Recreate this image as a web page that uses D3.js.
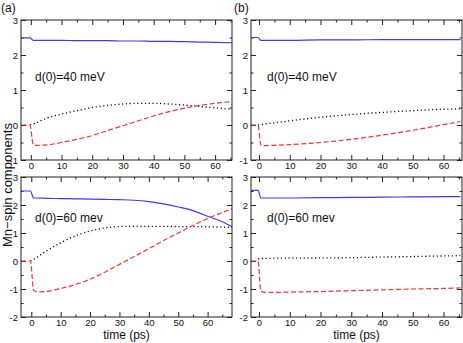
<!DOCTYPE html>
<html><head><meta charset="utf-8">
<script src="https://cdn.jsdelivr.net/npm/d3@7"></script>
<style>body{margin:0;background:#fff}svg{display:block}text{font-family:"Liberation Sans",Arial,sans-serif}</style>
</head><body><svg id="c" width="463" height="343"></svg>
<script>
// ---- data ----
const aTopTime = [-3, -0.3, 0.8, 2, 5, 10, 15, 20, 25, 30, 35, 40, 45, 50, 55, 60, 65.5];
const aTopBlue = [2.49, 2.49, 2.42, 2.42, 2.42, 2.42, 2.41, 2.41, 2.41, 2.40, 2.40, 2.39, 2.39, 2.38, 2.37, 2.36, 2.35];
const aTopDot  = [null, 0, 0.03, 0.07, 0.19, 0.31, 0.41, 0.50, 0.56, 0.60, 0.62, 0.62, 0.60, 0.57, 0.53, 0.49, 0.45];
const aTopRed  = [0, 0, -0.56, -0.58, -0.57, -0.50, -0.41, -0.30, -0.16, -0.02, 0.12, 0.26, 0.38, 0.48, 0.56, 0.62, 0.67];

const aBotTime = [-3.5, -0.3, 0.8, 2, 5, 10, 15, 20, 25, 30, 35, 40, 45, 50, 55, 60, 65, 68.3];
const aBotBlue = [2.5, 2.5, 2.25, 2.25, 2.24, 2.23, 2.22, 2.21, 2.20, 2.19, 2.17, 2.12, 2.04, 1.93, 1.80, 1.60, 1.40, 1.22];
const aBotDot  = [null, 0, 0.06, 0.14, 0.35, 0.65, 0.90, 1.07, 1.18, 1.23, 1.24, 1.24, 1.24, 1.23, 1.23, 1.22, 1.21, 1.20];
const aBotRed  = [0, 0, -1.05, -1.10, -1.09, -0.98, -0.84, -0.65, -0.40, -0.12, 0.16, 0.44, 0.73, 1.00, 1.27, 1.52, 1.73, 1.87];

const bTopTime = [-2.5, -0.3, 0.6, 2, 5, 10, 20, 30, 40, 50, 60, 65.5];
const bTopBlue = [2.5, 2.5, 2.42, 2.42, 2.42, 2.42, 2.43, 2.43, 2.44, 2.44, 2.44, 2.44];
const bTopDot  = [null, 0, 0.01, 0.03, 0.06, 0.12, 0.22, 0.30, 0.36, 0.41, 0.45, 0.46];
const bTopRed  = [0, 0, -0.57, -0.59, -0.58, -0.56, -0.50, -0.41, -0.29, -0.15, 0.01, 0.10];

const bBotTime = [-2.5, -0.3, 0.6, 2, 5, 10, 20, 30, 40, 50, 60, 65.5];
const bBotBlue = [2.52, 2.52, 2.25, 2.25, 2.25, 2.25, 2.26, 2.27, 2.28, 2.29, 2.30, 2.30];
const bBotDot  = [null, 0.08, 0.09, 0.09, 0.10, 0.10, 0.11, 0.12, 0.14, 0.16, 0.18, 0.19];
const bBotRed  = [0, 0, -1.08, -1.12, -1.12, -1.11, -1.09, -1.06, -1.03, -1.00, -0.98, -0.96];

const xTicks = [0, 10, 20, 30, 40, 50, 60];
const topYTicks = [-1, 0, 1, 2, 3];
const botYTicks = [-2, -1, 0, 1, 2, 3];
const panelTags = ["(a)", "(b)"];
const annotations = ["d(0)=40 meV", "d(0)=40 meV", "d(0)=60 mev", "d(0)=60 mev"];
const xTitle = "time (ps)";
const yTitle = "Mn\u2212spin components";

// ---- layout ----
const panels = [
  {x0: 21, x1: 232, y0: 20, y1: 160, xd: [-3.2, 65.5], yd: [-1, 3], yt: topYTicks, t: aTopTime, s: [aTopBlue, aTopDot, aTopRed], ann: annotations[0], ax: 14, ay: 61},
  {x0: 251, x1: 462, y0: 20, y1: 160, xd: [-2.6, 66], yd: [-1, 3], yt: topYTicks, t: bTopTime, s: [bTopBlue, bTopDot, bTopRed], ann: annotations[1], ax: 16, ay: 61},
  {x0: 21, x1: 232, y0: 177, y1: 317, xd: [-3.5, 68.3], yd: [-2, 3], yt: botYTicks, t: aBotTime, s: [aBotBlue, aBotDot, aBotRed], ann: annotations[2], ax: 14, ay: 45, xl: true},
  {x0: 251, x1: 462, y0: 177, y1: 317, xd: [-2.6, 66], yd: [-2, 3], yt: botYTicks, t: bBotTime, s: [bBotBlue, bBotDot, bBotRed], ann: annotations[3], ax: 16, ay: 45, xl: true}
];
const styles = [
  {stroke: "#3a3aff", dash: null, w: 1.2},
  {stroke: "#111", dash: "1.2,2.6", w: 1.3},
  {stroke: "#ff3030", dash: "5,2.5", w: 1.2}
];
const axisColor = "#222";

const svg = d3.select("#c");

panels.forEach(p => {
  const x = d3.scaleLinear().domain(p.xd).range([p.x0, p.x1]);
  const y = d3.scaleLinear().domain(p.yd).range([p.y1, p.y0]);
  const g = svg.append("g");

  const id = "clip" + p.x0 + "_" + p.y0;
  svg.append("clipPath").attr("id", id).append("rect")
    .attr("x", p.x0).attr("y", p.y0).attr("width", p.x1 - p.x0).attr("height", p.y1 - p.y0);

  const minorX = d3.range(5, p.xd[1], 10);
  const minorY = d3.range(p.yd[0] + 0.5, p.yd[1], 1);

  function styleAxis(sel) {
    sel.select(".domain").remove();
    sel.selectAll("line").attr("stroke", axisColor);
    sel.selectAll("text").attr("fill", "#111").style("font-size", "9.5px");
  }
  // bottom
  g.append("g").attr("transform", `translate(0,${p.y1})`)
    .call(d3.axisBottom(x).tickValues(xTicks).tickSize(-5).tickPadding(2).tickFormat(d3.format("d")))
    .call(styleAxis);
  g.append("g").attr("transform", `translate(0,${p.y1})`)
    .call(d3.axisBottom(x).tickValues(minorX).tickSize(-2.5).tickFormat(""))
    .call(styleAxis);
  // top
  g.append("g").attr("transform", `translate(0,${p.y0})`)
    .call(d3.axisTop(x).tickValues(xTicks).tickSize(-5).tickFormat(""))
    .call(styleAxis);
  g.append("g").attr("transform", `translate(0,${p.y0})`)
    .call(d3.axisTop(x).tickValues(minorX).tickSize(-2.5).tickFormat(""))
    .call(styleAxis);
  // left
  g.append("g").attr("transform", `translate(${p.x0},0)`)
    .call(d3.axisLeft(y).tickValues(p.yt).tickSize(-5).tickPadding(3).tickFormat(d => d < 0 ? "-" + Math.abs(d) : d))
    .call(styleAxis);
  g.append("g").attr("transform", `translate(${p.x0},0)`)
    .call(d3.axisLeft(y).tickValues(minorY).tickSize(-2.5).tickFormat(""))
    .call(styleAxis);
  // right
  g.append("g").attr("transform", `translate(${p.x1},0)`)
    .call(d3.axisRight(y).tickValues(p.yt).tickSize(-5).tickFormat(""))
    .call(styleAxis);
  g.append("g").attr("transform", `translate(${p.x1},0)`)
    .call(d3.axisRight(y).tickValues(minorY).tickSize(-2.5).tickFormat(""))
    .call(styleAxis);

  // series
  const lg = g.append("g").attr("clip-path", `url(#${id})`);
  p.s.forEach((vals, i) => {
    const pts = p.t.map((t, k) => [t, vals[k]]);
    const line = d3.line().defined(d => d[1] !== null)
      .x(d => x(d[0])).y(d => y(d[1])).curve(d3.curveMonotoneX);
    lg.append("path").attr("d", line(pts)).attr("fill", "none")
      .attr("stroke", styles[i].stroke).attr("stroke-width", styles[i].w)
      .attr("stroke-dasharray", styles[i].dash);
  });

  // box
  g.append("rect").attr("x", p.x0).attr("y", p.y0).attr("width", p.x1 - p.x0).attr("height", p.y1 - p.y0)
    .attr("fill", "none").attr("stroke", axisColor).attr("stroke-width", 1);

  // annotation
  g.append("text").attr("x", p.x0 + p.ax).attr("y", p.y0 + p.ay).text(p.ann)
    .style("font-size", "12px").attr("fill", "#111");

  if (p.xl) {
    g.append("text").attr("x", (p.x0 + p.x1) / 2).attr("y", 339).attr("text-anchor", "middle")
      .style("font-size", "12px").attr("fill", "#111").text(xTitle);
  }
});

svg.append("text").attr("x", 1).attr("y", 12).style("font-size", "12px").attr("fill", "#111").text(panelTags[0]);
svg.append("text").attr("x", 234).attr("y", 12).style("font-size", "12px").attr("fill", "#111").text(panelTags[1]);
svg.append("text").attr("transform", "translate(12,185) rotate(-90)").attr("text-anchor", "middle")
  .style("font-size", "13px").attr("fill", "#111").text(yTitle);
</script></body></html>
